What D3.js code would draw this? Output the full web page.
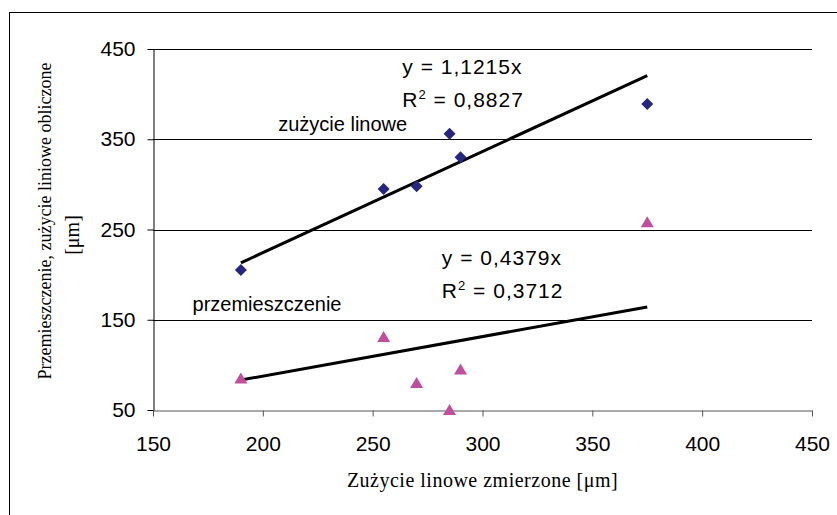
<!DOCTYPE html>
<html>
<head>
<meta charset="utf-8">
<script src="https://cdn.jsdelivr.net/npm/d3@7"></script>
<style>
  body { margin: 0; background: #fff; }
  svg { display: block; }
</style>
</head>
<body>
<div id="chart"></div>
<script>
// scatter with two trend lines

const width = 837
const height = 515
const margin = { top: 49, right: 25, bottom: 105, left: 153 } // plot area

// data
const measured = [190, 255, 270, 285, 290, 375] // zużycie linowe zmierzone
const wearCalc = [205, 295, 298, 356, 330, 389] // zużycie linowe (diamonds)
const shift = [85, 131, 80, 50, 95, 258] // przemieszczenie (triangles)
const xTicks = [150, 200, 250, 300, 350, 400, 450]
const yTicks = [50, 150, 250, 350, 450]
const slopes = [1.1215, 0.4379]
const r2 = ['0,8827', '0,3712']
const slopeText = ['1,1215', '0,4379']

const svg = d3.select('#chart').append('svg')
  .attr('width', width).attr('height', height)

// outer frame (clipped on right / bottom like the source)
svg.append('rect')
  .attr('x', 9.5).attr('y', 12.5)
  .attr('width', 840).attr('height', 520)
  .attr('fill', 'none').attr('stroke', '#000').attr('stroke-width', 1)

const x = d3.scaleLinear().domain([150, 450]).range([margin.left, width - margin.right])
const y = d3.scaleLinear().domain([50, 450]).range([height - margin.bottom, margin.top])

// gridlines
svg.append('g').selectAll('line')
  .data(yTicks.filter(d => d > 50))
  .join('line')
  .attr('x1', x(150)).attr('x2', x(450))
  .attr('y1', d => Math.round(y(d)) + 0.5).attr('y2', d => Math.round(y(d)) + 0.5)
  .attr('stroke', '#000').attr('stroke-width', 1)

// x axis
const xg = svg.append('g')
  .attr('transform', 'translate(0,' + (Math.round(y(50)) + 0.5) + ')')
  .call(d3.axisBottom(x).tickValues(xTicks).tickSize(6).tickSizeOuter(0))
xg.select('.domain').attr('stroke', '#555')
xg.selectAll('.tick line').attr('stroke', '#555')
xg.selectAll('text')
  .attr('y', 40).attr('dy', 0)
  .attr('font-family', 'Arial, "Liberation Sans", sans-serif')
  .attr('font-size', 21).attr('fill', '#000')

// y axis
const yg = svg.append('g')
  .attr('transform', 'translate(' + (Math.round(x(150)) + 0.5) + ',0)')
  .call(d3.axisLeft(y).tickValues(yTicks).tickSize(6).tickSizeOuter(0).tickPadding(12))
yg.select('.domain').attr('stroke', '#000')
yg.selectAll('.tick line').attr('stroke', '#000')
yg.selectAll('text')
  .attr('dy', '0.32em')
  .attr('font-family', 'Arial, "Liberation Sans", sans-serif')
  .attr('font-size', 21).attr('fill', '#000')

// trend lines y = a*x over the data range
const xmin = d3.min(measured)
const xmax = d3.max(measured)
svg.append('g').selectAll('line')
  .data(slopes)
  .join('line')
  .attr('x1', x(xmin)).attr('y1', d => y(d * xmin))
  .attr('x2', x(xmax)).attr('y2', d => y(d * xmax))
  .attr('stroke', '#000').attr('stroke-width', 3)

// diamonds
svg.append('g').selectAll('path')
  .data(measured)
  .join('path')
  .attr('d', 'M0,-6L6,0L0,6L-6,0Z')
  .attr('transform', (d, i) => 'translate(' + x(d) + ',' + y(wearCalc[i]) + ')')
  .attr('fill', '#262680')

// triangles
svg.append('g').selectAll('path')
  .data(measured)
  .join('path')
  .attr('d', 'M0,-6L6.5,5L-6.5,5Z')
  .attr('transform', (d, i) => 'translate(' + x(d) + ',' + y(shift[i]) + ')')
  .attr('fill', '#C0509E')

// equation labels
const eqPos = [[263.5, 422], [281.5, 211]] // data units
const eq = svg.append('g')
  .attr('font-family', 'Arial, "Liberation Sans", sans-serif')
  .attr('font-size', 21).attr('fill', '#000')
  .attr('letter-spacing', 1)
eqPos.forEach((p, i) => {
  eq.append('text')
    .attr('x', x(p[0])).attr('y', y(p[1]))
    .text('y = ' + slopeText[i] + 'x')
  const t = eq.append('text')
    .attr('x', x(p[0])).attr('y', y(p[1]) + 33)
  t.append('tspan').text('R')
  t.append('tspan').attr('font-size', 13).attr('dy', -8).text('2')
  t.append('tspan').attr('dy', 8).text(' = ' + r2[i])
})

// series labels
const lab = svg.append('g')
  .attr('font-family', 'Arial, "Liberation Sans", sans-serif')
  .attr('font-size', 20).attr('fill', '#000')
lab.append('text').attr('x', x(207)).attr('y', y(359)).text('zużycie linowe')
lab.append('text').attr('x', x(168)).attr('y', y(160)).text('przemieszczenie')

// axis titles
svg.append('text')
  .attr('x', (x(150) + x(450)) / 2).attr('y', 487)
  .attr('text-anchor', 'middle')
  .attr('font-family', '"Times New Roman", "Liberation Serif", serif')
  .attr('font-size', 20).attr('letter-spacing', 0.5)
  .text('Zużycie linowe zmierzone [μm]')

const yt = svg.append('g')
  .attr('font-family', '"Times New Roman", "Liberation Serif", serif')
  .attr('text-anchor', 'middle')
yt.append('text')
  .attr('transform', 'translate(51,221) rotate(-90)')
  .attr('font-size', 18)
  .text('Przemieszczenie, zużycie liniowe obliczone')
yt.append('text')
  .attr('transform', 'translate(79,235) rotate(-90)')
  .attr('font-size', 20)
  .text('[μm]')
</script>
</body>
</html>
